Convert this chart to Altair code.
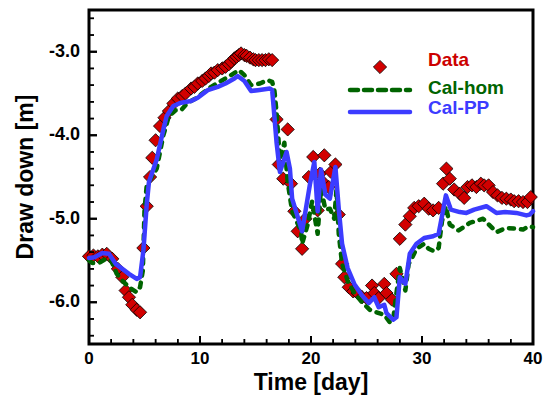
import altair as alt
import pandas as pd

# ---- Observed data (diamonds) ----
data_t = [0.0, 0.4, 0.8, 1.2, 1.6, 2.1, 2.6, 3.0, 3.3, 3.6, 3.9, 4.3, 4.6,
          4.9, 5.2, 5.5, 5.7, 6.0, 6.4, 6.8, 7.2, 7.6, 8.0, 8.4, 8.7, 9.2,
          9.5, 9.8, 10.2, 10.5, 10.8, 11.0, 11.3, 11.6, 12.0, 12.3, 12.6,
          12.8, 13.1, 13.3, 13.5, 13.7, 14.0, 14.2, 14.5, 14.8, 15.0, 15.3,
          15.6, 15.9, 16.2, 16.5, 16.9, 17.1, 17.5, 17.9, 18.2, 18.5, 18.8,
          19.2, 19.5, 19.8, 20.2, 20.6, 20.8, 21.0, 21.2, 21.6, 21.8, 22.2,
          22.5, 22.8, 23.0, 23.4, 23.8, 24.2, 24.6, 25.0, 25.5, 25.7, 26.1,
          26.6, 26.8, 27.3, 27.7, 28.0, 28.5, 28.9, 29.3, 29.7, 30.2, 30.6,
          31.0, 31.5, 31.9, 32.2, 32.5, 32.9, 33.4, 33.8, 34.1, 34.5, 34.9,
          35.3, 35.6, 36.0, 36.4, 36.8, 37.2, 37.6, 38.0, 38.3, 38.7, 39.1,
          39.5, 39.8]
data_dd = [-5.45, -5.44, -5.45, -5.43, -5.42, -5.48, -5.60, -5.70, -5.86,
           -5.94, -6.03, -6.09, -6.12, -5.35, -4.85, -4.50, -4.27, -4.06,
           -3.89, -3.79, -3.71, -3.62, -3.56, -3.53, -3.50, -3.44, -3.42,
           -3.38, -3.35, -3.32, -3.29, -3.26, -3.25, -3.22, -3.20, -3.18,
           -3.15, -3.12, -3.08, -3.06, -3.04, -3.02, -3.04, -3.05, -3.07,
           -3.09, -3.10, -3.10, -3.10, -3.10, -3.09, -3.10, -3.81, -4.35,
           -4.52, -3.93, -4.58, -4.91, -5.15, -5.36, -5.00, -4.50, -4.26,
           -4.90, -4.46, -4.55, -4.24, -4.62, -4.44, -4.35, -4.95, -5.54,
           -5.70, -5.82, -5.87, -5.89, -5.94, -5.95, -5.80, -5.89, -5.95,
           -5.78, -5.89, -5.97, -5.66, -5.24, -5.07, -4.97, -4.87, -4.85,
           -4.82, -4.88, -4.90, -4.87, -4.58, -4.40, -4.52, -4.65, -4.70,
           -4.75, -4.62, -4.60, -4.62, -4.58, -4.60, -4.60, -4.68, -4.72,
           -4.75, -4.76, -4.77, -4.79, -4.79, -4.80, -4.80, -4.74]

# ---- Cal-hom (green dashed) ----
hom_t = [0.0, 0.3, 0.9, 1.5, 2.0, 2.5, 3.0, 3.6, 4.3, 4.6, 4.85, 5.0, 5.2,
         6.1, 6.7, 7.2, 7.8, 8.3, 8.9, 9.6, 10.4, 11.0, 11.9, 12.8, 13.5,
         14.0, 14.6, 15.4, 16.1, 16.5, 16.7, 16.9, 17.2, 17.6, 17.9, 18.3,
         19.1, 19.2, 19.7, 20.1, 20.4, 20.6, 20.9, 21.3, 21.7, 22.1, 22.3,
         22.5, 22.8, 23.3, 23.9, 24.6, 25.3, 25.9, 26.6, 27.1, 27.4, 27.7,
         28.0, 28.5, 28.8, 29.1, 29.5, 30.2, 30.6, 31.1, 31.5, 31.8, 32.15,
         32.5, 33.3, 34.3, 35.5, 36.7, 37.6, 38.5, 39.1, 39.6, 40.0]
hom_dd = [-5.50, -5.53, -5.53, -5.48, -5.50, -5.66, -5.74, -5.82, -5.88,
          -5.82, -5.62, -4.90, -4.60, -4.40, -4.00, -3.77, -3.70, -3.70,
          -3.61, -3.56, -3.48, -3.42, -3.35, -3.28, -3.22, -3.28, -3.40,
          -3.38, -3.34, -3.36, -3.46, -3.73, -4.29, -4.09, -4.56, -4.91,
          -5.15, -5.30, -5.07, -4.79, -5.03, -5.18, -4.64, -4.89, -4.88,
          -5.00, -4.64, -5.18, -5.54, -5.74, -5.89, -6.00, -6.09, -6.12,
          -6.15, -6.24, -6.21, -5.89, -5.59, -5.86, -5.54, -5.47, -5.36,
          -5.30, -5.36, -5.39, -5.35, -5.03, -4.85, -5.07, -5.14, -5.05,
          -5.00, -5.16, -5.11, -5.12, -5.13, -5.09, -5.10]

# ---- Cal-PP (blue solid) ----
pp_t = [0.0, 0.5, 1.2, 1.8, 2.4, 3.0, 3.6, 4.3, 4.6, 4.9, 5.2, 5.4, 6.1,
        6.7, 7.0, 7.6, 8.3, 9.2, 9.8, 10.7, 11.6, 12.3, 13.1, 13.4, 14.0,
        14.6, 15.2, 16.3, 16.5, 16.6, 16.9, 17.2, 17.8, 18.1, 18.3, 19.2,
        19.9, 20.3, 20.6, 20.9, 21.3, 21.7, 22.2, 22.5, 22.8, 23.3, 23.9,
        24.6, 25.2, 25.7, 26.1, 26.6, 26.8, 27.4, 27.7, 28.0, 28.5, 28.9,
        29.5, 30.2, 31.0, 31.5, 31.9, 32.15, 32.6, 33.4, 34.0, 34.7, 35.8,
        36.7, 37.5, 38.5, 39.4, 39.7, 40.0]
pp_dd = [-5.47, -5.46, -5.41, -5.42, -5.54, -5.60, -5.66, -5.72, -5.70,
         -5.38, -4.83, -4.56, -4.29, -3.93, -3.77, -3.65, -3.61, -3.59,
         -3.55, -3.46, -3.42, -3.38, -3.32, -3.29, -3.35, -3.47, -3.46,
         -3.44, -3.46, -3.61, -4.09, -4.44, -4.20, -4.40, -4.76, -5.15,
         -4.59, -4.32, -4.91, -4.41, -4.71, -4.76, -4.38, -4.88, -5.30,
         -5.59, -5.78, -5.92, -6.01, -5.94, -6.06, -6.03, -6.13, -6.21,
         -6.18, -5.70, -5.78, -5.42, -5.30, -5.23, -5.21, -5.18, -4.90,
         -4.72, -4.89, -4.92, -4.93, -4.89, -4.85, -4.93, -4.92, -4.93,
         -4.96, -4.95, -4.91]

# ---- Axis ticks and tick labels ----
x_major = [0, 10, 20, 30, 40]
x_labels = ["0", "10", "20", "30", "40"]
x_minor = [2, 4, 6, 8, 12, 14, 16, 18, 22, 24, 26, 28, 32, 34, 36, 38]
y_major = [-6.0, -5.0, -4.0, -3.0]
y_labels = ["-6.0", "-5.0", "-4.0", "-3.0"]
y_minor = [-6.4, -6.2, -5.8, -5.6, -5.4, -5.2, -4.8, -4.6, -4.4, -4.2,
           -3.8, -3.6, -3.4, -3.2, -2.8, -2.6]

x_title = "Time [day]"
y_title = "Draw down [m]"
legend_labels = ["Data", "Cal-hom", "Cal-PP"]

RED = "#d20000"
GREEN = "#006400"
BLUE = "#3c3cff"
FONT = "Liberation Sans"
W, H = 444, 334

data_df = pd.DataFrame({"t": data_t, "dd": data_dd})
hom_df = pd.DataFrame({"t": hom_t, "dd": hom_dd})
pp_df = pd.DataFrame({"t": pp_t, "dd": pp_dd})

xs = alt.Scale(domain=[0, 40], nice=False, zero=False)
ys = alt.Scale(domain=[-6.5, -2.5], nice=False, zero=False)

points = alt.Chart(data_df).mark_point(
    shape="diamond", filled=True, fill=RED, stroke="black", strokeWidth=0.8,
    size=175, opacity=1,
).encode(
    x=alt.X("t:Q", scale=xs, axis=None),
    y=alt.Y("dd:Q", scale=ys, axis=None),
)

hom_line = alt.Chart(hom_df).mark_line(
    color=GREEN, strokeWidth=4.5, strokeDash=[5, 7], strokeCap="round",
    strokeJoin="round",
).encode(
    x=alt.X("t:Q", scale=xs, axis=None),
    y=alt.Y("dd:Q", scale=ys, axis=None),
)

pp_line = alt.Chart(pp_df).mark_line(
    color=BLUE, strokeWidth=4.5, strokeJoin="round", strokeCap="round",
).encode(
    x=alt.X("t:Q", scale=xs, axis=None),
    y=alt.Y("dd:Q", scale=ys, axis=None),
)

# ---- Inward tick marks (placed through the shared scales) ----
def x_ticks(vals, length, width):
    df = pd.DataFrame({"xt": vals})
    rule = alt.Chart(df).mark_rule(
        color="black", strokeWidth=width, opacity=1, strokeOpacity=1,
    ).encode(
        x=alt.X("xt:Q", scale=xs, axis=None),
        y=alt.value(H), y2=alt.value(H - length),
    )
    tick = alt.Chart(df).mark_tick(
        color="black", orient="vertical", size=length, thickness=width,
        opacity=1, filled=True,
    ).encode(
        x=alt.X("xt:Q", scale=xs, axis=None),
        y=alt.value(H - length / 2),
    )
    return [rule, tick]

def y_ticks(vals, length, width):
    df = pd.DataFrame({"yt": vals})
    rule = alt.Chart(df).mark_rule(
        color="black", strokeWidth=width, opacity=1, strokeOpacity=1,
    ).encode(
        y=alt.Y("yt:Q", scale=ys, axis=None),
        x=alt.value(0), x2=alt.value(length),
    )
    tick = alt.Chart(df).mark_tick(
        color="black", orient="horizontal", size=length, thickness=width,
        opacity=1, filled=True,
    ).encode(
        y=alt.Y("yt:Q", scale=ys, axis=None),
        x=alt.value(length / 2),
    )
    return [rule, tick]

# ---- Tick labels and axis titles ----
x_lab = alt.Chart(pd.DataFrame({"xl": x_major, "lab": x_labels})).mark_text(
    font=FONT, fontSize=17, fontWeight="bold", color="black",
    align="center", baseline="top",
).encode(x=alt.X("xl:Q", scale=xs, axis=None), y=alt.value(H + 7), text="lab:N")

y_lab = alt.Chart(pd.DataFrame({"yl": y_major, "lab": y_labels})).mark_text(
    font=FONT, fontSize=18, fontWeight="bold", color="black",
    align="right", baseline="middle",
).encode(y=alt.Y("yl:Q", scale=ys, axis=None), x=alt.value(-9), text="lab:N")

titles_df = pd.DataFrame({"which": ["x", "y"], "txt": [x_title, y_title]})
x_tit = alt.Chart(titles_df).transform_filter(alt.datum.which == "x").mark_text(
    font=FONT, fontSize=23, fontWeight="bold", color="black",
    align="center", baseline="top",
).encode(x=alt.value(W / 2), y=alt.value(H + 28), text="txt:N")

y_tit = alt.Chart(titles_df).transform_filter(alt.datum.which == "y").mark_text(
    font=FONT, fontSize=23, fontWeight="bold", color="black",
    align="center", baseline="middle", angle=270,
).encode(x=alt.value(-63), y=alt.value(H / 2), text="txt:N")

# ---- Custom legend (inside top-right) ----
leg_df = pd.DataFrame({"label": legend_labels})
leg_diamond = alt.Chart(leg_df).transform_filter(
    alt.datum.label == "Data"
).mark_point(
    shape="diamond", filled=True, fill=RED, stroke="black", strokeWidth=0.8,
    size=175, opacity=1,
).encode(x=alt.value(291), y=alt.value(57))

leg_hom = alt.Chart(leg_df).transform_filter(
    alt.datum.label == "Cal-hom"
).mark_rule(
    color=GREEN, strokeWidth=4.5, strokeDash=[8, 6], strokeCap="round",
).encode(x=alt.value(261), x2=alt.value(321), y=alt.value(80))

leg_pp = alt.Chart(leg_df).transform_filter(
    alt.datum.label == "Cal-PP"
).mark_rule(
    color=BLUE, strokeWidth=4.5, strokeCap="round",
).encode(x=alt.value(261), x2=alt.value(321), y=alt.value(102))

def leg_text(label, color, y):
    return alt.Chart(leg_df).transform_filter(
        alt.datum.label == label
    ).mark_text(
        align="left", baseline="middle", font=FONT, fontSize=19,
        fontWeight="bold", color=color,
    ).encode(x=alt.value(339), y=alt.value(y), text="label:N")

tick_layers = (x_ticks(x_major, 8, 2) + x_ticks(x_minor, 5, 1.5)
               + y_ticks(y_major, 8, 2) + y_ticks(y_minor, 5, 1.5))

chart = alt.layer(
    points, hom_line, pp_line,
    x_lab, y_lab, x_tit, y_tit,
    leg_diamond, leg_hom, leg_pp,
    leg_text("Data", "#cc0000", 50),
    leg_text("Cal-hom", GREEN, 78),
    leg_text("Cal-PP", BLUE, 98),
    *tick_layers,
).properties(
    width=W, height=H, background="white",
    padding={"left": 81, "top": 2, "right": 10, "bottom": 56},
    autosize=alt.AutoSizeParams(type="none"),
).configure_view(
    stroke="black", strokeWidth=3
)

chart.save("out.html", embed_options={"renderer": "svg", "actions": False})
